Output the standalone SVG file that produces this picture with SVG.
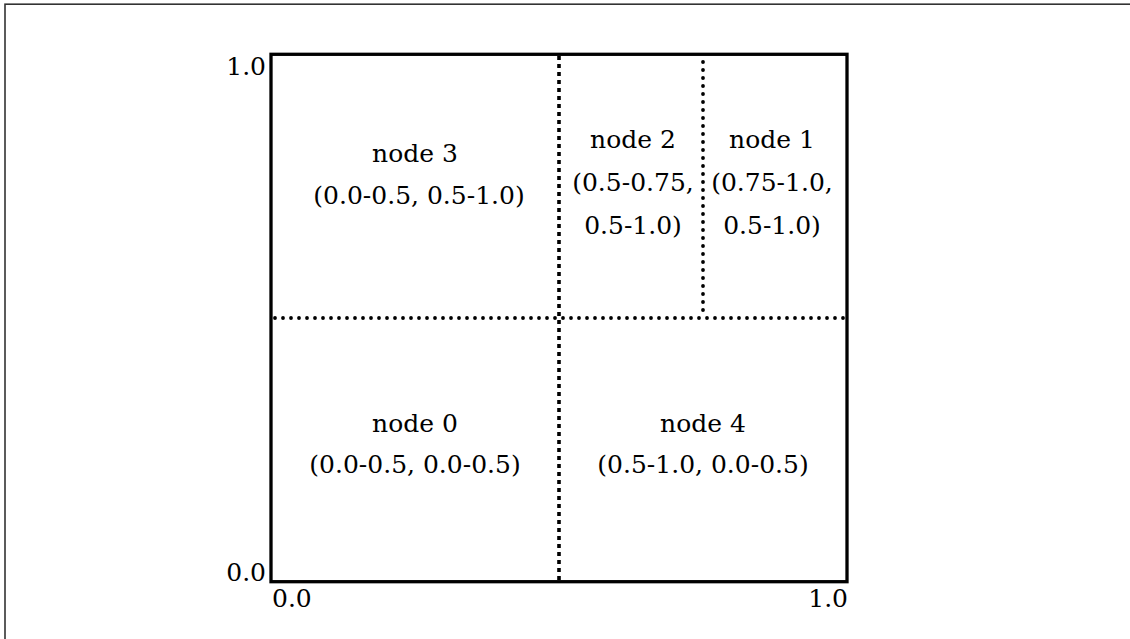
<svg xmlns="http://www.w3.org/2000/svg" width="1130" height="639" viewBox="0 0 1130 639">
  <style>
    .lbl { font-family: "DejaVu Serif", "Liberation Serif", serif; font-size: 25px; fill: #000; text-anchor: middle; }
    .axis { font-family: "DejaVu Serif", "Liberation Serif", serif; font-size: 25px; fill: #000; }
    .split-main { stroke: #000; stroke-width: 3.6; stroke-dasharray: 4 4; fill: none; }
    .split-dot { stroke: #000; stroke-width: 3.8; stroke-dasharray: 0 8; stroke-linecap: round; fill: none; }
  </style>
  <rect width="1130" height="639" fill="#fff"/>
  <!-- frame: only the top and left edges fall inside the canvas -->
  <rect x="5" y="4.2" width="1200" height="700" fill="none" stroke="#333" stroke-width="1.6"/>

  <!-- unit square -->
  <rect id="domain" x="271" y="54.3" width="576" height="527.4" fill="none" stroke="#000" stroke-width="3.3"/>

  <!-- partition lines -->
  <g id="connectors">
    <line class="split-main" x1="559" y1="56" x2="559" y2="580"/>
    <line class="split-dot" x1="275" y1="318" x2="847" y2="318"/>
    <line class="split-dot" x1="703" y1="62" x2="703" y2="318"/>
  </g>

  <!-- axis labels -->
  <g id="axes">
    <text class="axis" x="266" y="75" text-anchor="end">1.0</text>
    <text class="axis" x="266" y="581" text-anchor="end">0.0</text>
    <text class="axis" x="272" y="607">0.0</text>
    <text class="axis" x="848" y="607" text-anchor="end">1.0</text>
  </g>

  <g id="node3">
    <text class="lbl" x="415" y="162">node 3</text>
    <text class="lbl" x="419" y="204">(0.0-0.5, 0.5-1.0)</text>
  </g>
  <g id="node2">
    <text class="lbl" x="633" y="148">node 2</text>
    <text class="lbl" x="633" y="191">(0.5-0.75,</text>
    <text class="lbl" x="633" y="234">0.5-1.0)</text>
  </g>
  <g id="node1">
    <text class="lbl" x="772" y="148">node 1</text>
    <text class="lbl" x="772" y="191">(0.75-1.0,</text>
    <text class="lbl" x="772" y="234">0.5-1.0)</text>
  </g>
  <g id="node0">
    <text class="lbl" x="415" y="432">node 0</text>
    <text class="lbl" x="415" y="473">(0.0-0.5, 0.0-0.5)</text>
  </g>
  <g id="node4">
    <text class="lbl" x="703" y="432">node 4</text>
    <text class="lbl" x="703" y="473">(0.5-1.0, 0.0-0.5)</text>
  </g>
</svg>
